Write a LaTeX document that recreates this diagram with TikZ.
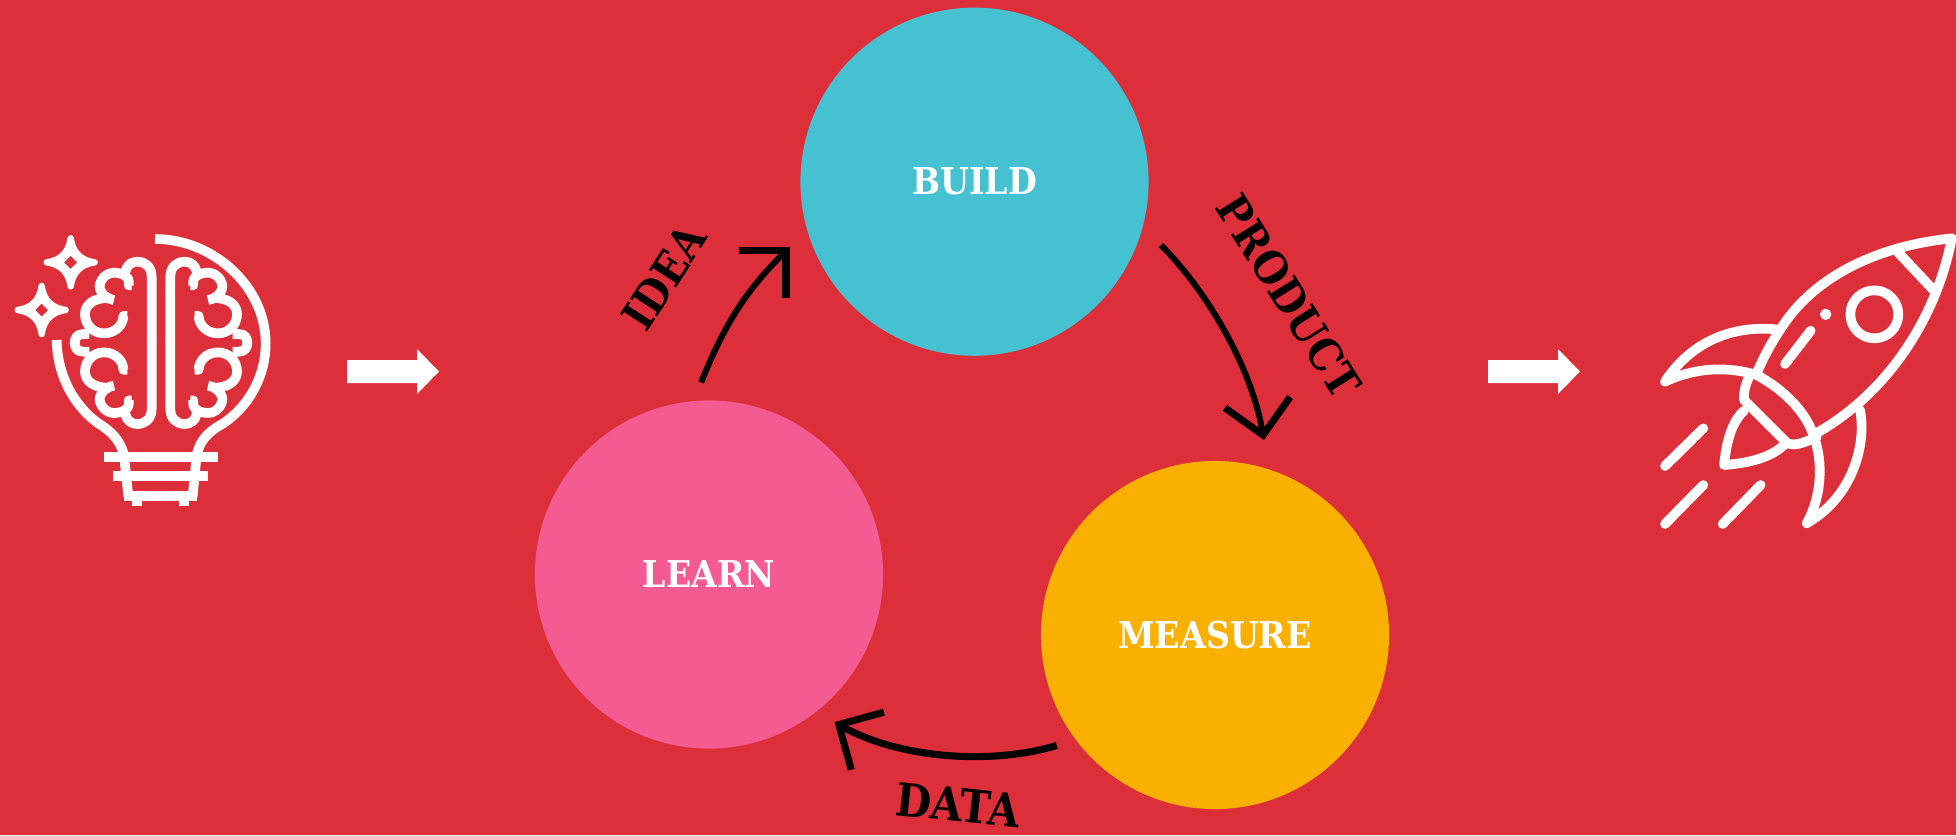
\documentclass[tikz,border=0pt]{standalone}
\usepackage{fontspec}
\usetikzlibrary{arrows.meta}
\newfontfamily\slabbold[Scale=1]{DejaVu Serif Condensed Bold}
\definecolor{bgred}{HTML}{DC2F39}
\definecolor{teal1}{HTML}{45C1D2}
\definecolor{pink1}{HTML}{F35B92}
\definecolor{amber1}{HTML}{F9B000}
\tikzset{
  disc/.style={circle,draw=none,minimum size=348*0.2845pt,inner sep=0pt,outer sep=0pt,text=white,font=\slabbold\fontsize{10.5pt}{12pt}\selectfont},
  flow/.style={draw=black,line width=1.7pt,-{Straight Barb[length=9.4pt,width=18.8pt,line width=2pt]}},
  lab/.style={text=black,inner sep=0pt,font=\slabbold\fontsize{12.6pt}{14pt}\selectfont},
  iconline/.style={draw=white,line width=2.75pt,line cap=round,line join=round},
  iconbutt/.style={draw=white,line width=2.75pt,line cap=butt,line join=round},
  blockarrow/.style={fill=white,draw=none},
}
\begin{document}
\begin{tikzpicture}[x=0.01cm,y=-0.01cm]
\useasboundingbox (0,0) rectangle (1956,835);
\fill[bgred] (0,0) rectangle (1956,835);

% circles
\node[disc,fill=teal1] (build) at (974.5,181.7) {BUILD};
\node[disc,fill=pink1] (learn) at (709,574.5) {LEARN};
\node[disc,fill=amber1] (measure) at (1215,635) {MEASURE};

% connectors
\draw[flow,shorten <=7.4pt,shorten >=8.5pt] (build.-15.7) .. controls +(67.2,67.2) and +(-16.5,-98.6) .. (measure.72.6);
\draw[flow,line width=2pt,shorten <=5.7pt,shorten >=6pt] (measure.217.9) .. controls +(-87.3,26) and +(81,46) .. (learn.-52.3);
\draw[flow,shorten <=5.7pt,shorten >=7.1pt] (learn.95.2) .. controls +(32,-81) and +(-58,58) .. (build.196.4);

% labels
\node[lab,rotate=-58] (product) at (1289,296) {PRODUCT};
\node[lab,rotate=57] (idea) at (664,277) {IDEA};
\node[lab,rotate=-6,font=\slabbold\fontsize{13pt}{15pt}\selectfont] (data) at (958,805) {DATA};

% block arrows
\fill[blockarrow] (347,360) -- (417,360) -- (417,349) -- (439,371.5) -- (417,394) -- (417,383) -- (347,383) -- cycle;
\fill[blockarrow] (1488,360) -- (1558,360) -- (1558,349) -- (1580,371.5) -- (1558,394) -- (1558,383) -- (1488,383) -- cycle;

% bulb and brain icon (coordinates in 3x crop units)
\begin{scope}[shift={(0,210)},x=0.01cm/3,y=-0.01cm/3]
  \draw[iconbutt] (465,87) .. controls (640,87) and (797,230) .. (797,400)
     .. controls (797,500) and (745,590) .. (670,640)
     .. controls (625,665) and (600,690) .. (590,735) -- (578,860);
  \draw[iconbutt] (170,390) .. controls (172,500) and (225,590) .. (295,640)
     .. controls (335,665) and (360,690) .. (372,735) -- (385,860);
  \draw[iconbutt] (312,741) -- (653,741);
  \draw[iconbutt] (340,798) -- (625,798);
  \draw[iconbutt] (372,858) -- (591,858);
  \draw[iconbutt] (410,858) -- (410,887);
  \draw[iconbutt] (552,858) -- (552,887);
  % stars
  \foreach \cx/\cy in {212/157,125/300}{
    \begin{scope}[shift={(\cx,\cy)}]
      \filldraw[white,line width=1.8pt,line join=round]
        (0,-72) .. controls (6,-30) and (30,-6) .. (72,0)
        .. controls (30,6) and (6,30) .. (0,72)
        .. controls (-6,30) and (-30,6) .. (-72,0)
        .. controls (-30,-6) and (-6,-30) .. (0,-72) -- cycle;
      \fill[bgred] (0,-19) -- (19,0) -- (0,19) -- (-19,0) -- cycle;
    \end{scope}
  }
  % brain quarters, mirrored
  \foreach \sx/\sy in {1/1,1/-1,-1/1,-1/-1}{
    \begin{scope}[shift={(483,398.5)},xscale=\sx,yscale=\sy,shift={(-483,-398.5)}]
      \draw[iconbutt] (455,400) -- (455,200) .. controls (455,170) and (435,155) .. (412,155)
         .. controls (395,155) and (380,165) .. (376,185);
      \draw[iconbutt] (395,226) -- (386,226) .. controls (392,198) and (365,188) .. (340,188)
         .. controls (310,190) and (288,225) .. (305,247)
         .. controls (312,258) and (325,268) .. (342,270);
      \draw[iconbutt] (330,264) .. controls (280,262) and (255,285) .. (255,312)
         .. controls (255,345) and (280,370) .. (312,370)
         .. controls (345,370) and (370,345) .. (370,318) -- (382,318);
      \draw[iconbutt] (268,372) -- (250,372) .. controls (230,372) and (224,385) .. (224,400);
    \end{scope}
  }
\end{scope}

% rocket icon (coordinates in 3x crop units)
\begin{scope}[shift={(1470,210)},x=0.01cm/3,y=-0.01cm/3]
  \draw[iconline] (860,490) .. controls (885,430) and (915,380) .. (950,330)
     .. controls (1060,180) and (1250,105) .. (1445,85)
     .. controls (1405,300) and (1270,540) .. (1035,672);
  \draw[iconline] (1285,128) -- (1395,245);
  \draw[iconline] (1213,313) circle[radius=72];
  \fill[white] (1067,313) circle[radius=17];
  \draw[iconline] (1022,362) -- (945,462);
  \draw[iconline] (860,495) .. controls (935,535) and (1005,600) .. (1030,675);
  \draw[iconline] (918,358) .. controls (780,345) and (660,400) .. (585,515)
     .. controls (680,470) and (780,470) .. (860,495);
  \draw[iconline] (1170,600) .. controls (1190,700) and (1150,860) .. (1010,940)
     .. controls (1060,850) and (1055,750) .. (1035,690);
  \draw[iconline] (835,505) .. controls (825,530) and (820,550) .. (822,570)
     -- (950,698) .. controls (975,712) and (1005,695) .. (1040,682);
  \draw[iconline] (822,602) .. controls (780,640) and (768,710) .. (762,765)
     .. controls (830,760) and (900,745) .. (942,705);
  \draw[iconline] (700,655) -- (585,768);
  \draw[iconline] (700,825) -- (585,942);
  \draw[iconline] (872,825) -- (758,942);
\end{scope}
\end{tikzpicture}
\end{document}
